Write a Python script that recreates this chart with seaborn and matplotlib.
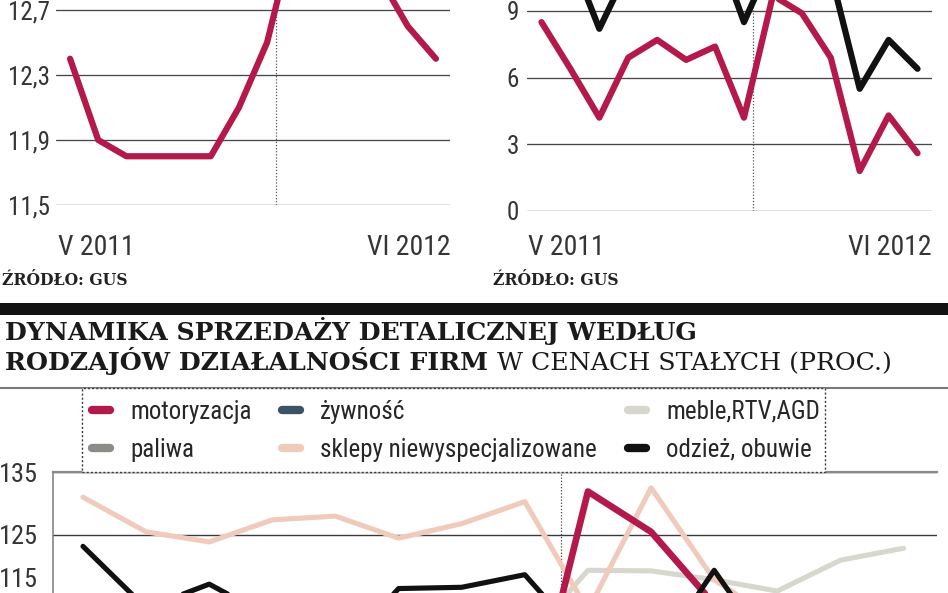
import os
import numpy as np
import pandas as pd
import matplotlib
matplotlib.use("Agg")
import matplotlib.pyplot as plt
import seaborn as sns
from matplotlib import font_manager as fm
from matplotlib.lines import Line2D
from matplotlib.patches import Rectangle

# ---------------- data ----------------
months = ["V 2011", "VI 2011", "VII 2011", "VIII 2011", "IX 2011", "X 2011", "XI 2011",
          "XII 2011", "I 2012", "II 2012", "III 2012", "IV 2012", "V 2012", "VI 2012"]
x_labels = ["V 2011", "VI 2012"]
source_label = "ŹRÓDŁO: GUS"

# top-left panel
unemployment = [12.4, 11.9, 11.8, 11.8, 11.8, 11.8, 12.1, 12.5, 13.2, 13.4, 13.3, 12.9, 12.6, 12.4]
unemp_ticks = [11.5, 11.9, 12.3, 12.7]
unemp_tick_labels = ["11,5", "11,9", "12,3", "12,7"]

# top-right panel
sales_nominal = [12.3, 11.5, 8.2, 10.9, 12.0, 11.5, 12.1, 8.5, 11.4, 12.0, 10.7, 5.5, 7.7, 6.4]
sales_real = [8.5, 6.4, 4.2, 6.9, 7.7, 6.8, 7.4, 4.2, 9.7, 8.9, 6.9, 1.8, 4.3, 2.6]
sales_ticks = [0, 3, 6, 9]
sales_tick_labels = ["0", "3", "6", "9"]

# bottom panel
title_line1 = "DYNAMIKA SPRZEDAŻY DETALICZNEJ WEDŁUG"
title_line2a = "RODZAJÓW DZIAŁALNOŚCI FIRM"
title_line2b = "W CENACH STAŁYCH (PROC.)"
categories = ["motoryzacja", "paliwa", "żywność", "sklepy niewyspecjalizowane",
              "meble,RTV,AGD", "odzież, obuwie"]
motoryzacja = [103.0, 99.5, 97.0, 101.0, 100.5, 96.0, 98.0, 91.5, 131.9, 125.5, 114.0, 107.0, 110.5, 104.0]
paliwa = [104.5, 102.0, 101.5, 103.0, 100.5, 99.0, 98.5, 97.0, 96.0, 99.5, 97.5, 95.0, 96.5, 98.0]
zywnosc = [101.5, 100.0, 102.5, 99.5, 101.0, 100.5, 102.0, 103.0, 104.5, 103.5, 105.0, 101.0, 102.5, 103.5]
sklepy = [131.0, 125.5, 123.9, 127.4, 128.0, 124.5, 126.8, 130.3, 113.0, 132.5, 117.9, 111.3, 108.5, 115.6]
meble = [106.0, 103.5, 100.5, 101.0, 104.0, 103.0, 105.0, 108.0, 119.4, 119.3, 117.9, 116.1, 121.0, 122.9]
odziez = [123.2, 113.4, 117.2, 111.8, 105.5, 116.5, 116.7, 118.7, 107.4, 104.5, 119.4, 105.0, 109.0, 103.0]
branch_ticks = [115, 125, 135]
branch_tick_labels = ["115", "125", "135"]

# ---------------- style ----------------
RED = "#b3194a"
colors = {
    "motoryzacja": RED,
    "paliwa": "#8b8b87",
    "żywność": "#3e5266",
    "sklepy niewyspecjalizowane": "#f0cbbb",
    "meble,RTV,AGD": "#d7d7ce",
    "odzież, obuwie": "#111111",
}

sns.set_style("white")


def find_font(names):
    files = [f.fname for f in fm.fontManager.ttflist]
    try:
        files += list(fm.findSystemFonts())
    except Exception:
        pass
    for n in names:
        for p in files:
            if os.path.basename(p) == n:
                return p
    return None


narrow_path = find_font(["LiberationSansNarrow-Regular.ttf", "RobotoCondensed-Regular.ttf",
                         "DejaVuSansCondensed.ttf"])


def narrow(size):
    if narrow_path:
        return fm.FontProperties(fname=narrow_path, size=size)
    return fm.FontProperties(family="DejaVu Sans", size=size)


W, H = 948, 593
fig = plt.figure(figsize=(W / 100, H / 100), dpi=100)
fig.patch.set_facecolor("white")


def add_ax_px(x0, x1, y_top, y_bot):
    return fig.add_axes([x0 / W, 1 - y_bot / H, (x1 - x0) / W, (y_bot - y_top) / H])


def ftext(x, y, s, **kw):
    return fig.text(x / W, 1 - y / H, s, **kw)


x_idx = np.arange(len(months))
TICK_COLOR = "#353535"


def style_top(ax, ticks, labels, pad):
    ax.set_facecolor("none")
    for s in ax.spines.values():
        s.set_visible(False)
    ax.set_xticks([])
    ax.set_yticks(ticks)
    ax.set_yticklabels(labels, fontproperties=narrow(18), color=TICK_COLOR)
    ax.tick_params(axis="y", length=0, pad=pad)
    ax.grid(axis="y", color="#474747", lw=0.95)
    ax.grid(axis="x", visible=False)
    ax.set_axisbelow(True)
    ax.set_xlabel("")
    ax.set_ylabel("")


# ---------- top-left: unemployment ----------
ax1 = add_ax_px(56, 450, 205 - (13.6 - 11.5) * 162.5, 205)
df1 = pd.DataFrame({"m": x_idx, "v": unemployment})
sns.lineplot(data=df1, x="m", y="v", ax=ax1, color=RED, lw=4.5,
             solid_joinstyle="round", solid_capstyle="round", legend=False)
ax1.set_xlim(-0.5, 13.5)
ax1.set_ylim(11.5, 13.6)
ax1.axvline(7.3, color="#555555", lw=0.9, ls=(0, (1, 1.5)), zorder=1)
style_top(ax1, unemp_ticks, unemp_tick_labels, 4.5)

# ---------- top-right: sales ----------
ax2 = add_ax_px(527, 932, 211 - 15 * (200 / 9), 211)
df2 = pd.DataFrame({"m": np.concatenate([x_idx, x_idx]),
                    "v": sales_nominal + sales_real,
                    "s": ["nominal"] * len(x_idx) + ["real"] * len(x_idx)})
sns.lineplot(data=df2, x="m", y="v", hue="s", palette={"nominal": "#111111", "real": RED},
             ax=ax2, lw=4.5, solid_joinstyle="round", solid_capstyle="round", legend=False)
ax2.set_xlim(-0.5, 13.5)
ax2.set_ylim(0, 15)
ax2.axvline(7.3, color="#555555", lw=0.9, ls=(0, (1, 1.5)), zorder=1)
style_top(ax2, sales_ticks, sales_tick_labels, 6)

# x labels & sources for the top panels
for (xl, xr) in [(58, 451), (528, 932)]:
    ftext(xl, 255, x_labels[0], fontproperties=narrow(20), color=TICK_COLOR, ha="left", va="baseline")
    ftext(xr, 255, x_labels[1], fontproperties=narrow(20), color=TICK_COLOR, ha="right", va="baseline")

renderer = fig.canvas.get_renderer()


def fit_text(t, target_w):
    bb = t.get_window_extent(renderer)
    t.set_fontsize(t.get_fontsize() * target_w / bb.width)


for xs in [2, 493]:
    t = ftext(xs, 285, source_label, family="DejaVu Serif", weight="bold", fontsize=10,
              color="#222222", ha="left", va="baseline")
    fit_text(t, 126)

# ---------- separators / title ----------
fig.add_artist(Rectangle((0, 1 - 315 / H), 1, 12 / H, transform=fig.transFigure,
                         facecolor="#121212", edgecolor="none", zorder=3))
t1 = ftext(5, 340, title_line1, family="DejaVu Serif", weight="bold", fontsize=14,
           color="#1a1a1a", ha="left", va="baseline")
fit_text(t1, 695)
fs_title = t1.get_fontsize()
t2 = ftext(5, 370, title_line2a, family="DejaVu Serif", weight="bold", fontsize=fs_title,
           color="#1a1a1a", ha="left", va="baseline")
bb2 = t2.get_window_extent(renderer)
ftext(bb2.x1 + 9, 370, title_line2b, family="DejaVu Serif", weight="normal", fontsize=fs_title,
      color="#1a1a1a", ha="left", va="baseline")

fig.add_artist(Line2D([0, 1], [1 - 388 / H] * 2, transform=fig.transFigure,
                      color="#7a7a7a", lw=1.5, zorder=3))
fig.add_artist(Rectangle((82 / W, 1 - 472 / H), (825 - 82) / W, (472 - 388) / H,
                         transform=fig.transFigure, facecolor="white", edgecolor="#3a3a3a",
                         lw=1.0, ls=(0, (1.5, 1.5)), zorder=4))

# ---------- bottom: branches ----------
ax3 = add_ax_px(53, 937, 472, 472 + 55 * 6.3)
series = {"motoryzacja": motoryzacja, "paliwa": paliwa, "żywność": zywnosc,
          "sklepy niewyspecjalizowane": sklepy, "meble,RTV,AGD": meble,
          "odzież, obuwie": odziez}
draw_order = ["żywność", "paliwa", "meble,RTV,AGD", "sklepy niewyspecjalizowane",
              "motoryzacja", "odzież, obuwie"]
widths = {"motoryzacja": 4.8}
for i, name in enumerate(draw_order):
    d = pd.DataFrame({"m": x_idx, "v": series[name]})
    sns.lineplot(data=d, x="m", y="v", ax=ax3, color=colors[name], lw=widths.get(name, 3.7),
                 solid_joinstyle="round", solid_capstyle="round", legend=False, zorder=3 + i)
ax3.set_xlim(-0.475, 13.53)
ax3.set_ylim(80, 135)
ax3.set_facecolor("none")
ax3.set_xticks([])
ax3.set_yticks(branch_ticks)
# upper labels as ordinary tick labels; the lowest one lies on the picture's
# bottom edge, so it is written just above that edge to stay whole
ax3.set_yticklabels([""] + branch_tick_labels[1:], fontproperties=narrow(19), color=TICK_COLOR)
ax3.tick_params(axis="y", length=0, pad=10.5)
ftext(38, 592, branch_tick_labels[0], fontproperties=narrow(19), color=TICK_COLOR,
      ha="right", va="bottom")
ax3.grid(axis="y", color="#3a3a3a", lw=1.0)
ax3.grid(axis="x", visible=False)
ax3.set_axisbelow(True)
ax3.set_xlabel("")
ax3.set_ylabel("")
for side in ["right", "bottom"]:
    ax3.spines[side].set_visible(False)
ax3.spines["top"].set_color("#8a8a8a")
ax3.spines["top"].set_linewidth(1.6)
ax3.spines["left"].set_color("#7a7a7a")
ax3.spines["left"].set_linewidth(1.1)
ax3.axvline(7.57, color="#444444", lw=0.9, ls=(0, (1, 1.5)), zorder=2)

# ---------- legend (three columns) ----------
columns = [(categories[0:2], 92), (categories[2:4], 282), (categories[4:6], 628)]
for names, xpx in columns:
    handles = [Line2D([], [], color=colors[n], lw=6.0, solid_capstyle="round") for n in names]
    leg = fig.legend(handles, names, loc="upper left", bbox_to_anchor=(xpx / W, 1 - 399.5 / H),
                     frameon=False, prop=narrow(18), handlelength=0.7, handletextpad=0.82,
                     labelspacing=0.56, borderpad=0, borderaxespad=0)
    for txt in leg.get_texts():
        txt.set_color("#262626")
    leg.set_zorder(6)

fig.savefig("out.png", dpi=100, facecolor="white")
